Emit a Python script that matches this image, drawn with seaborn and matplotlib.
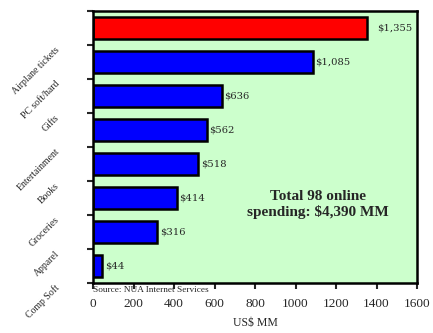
import matplotlib
matplotlib.use('Agg')
import matplotlib.pyplot as plt
import seaborn as sns

# data
categories = ['Airplane tickets', 'PC soft/hard', 'Gifts', 'Entertainment',
              'Books', 'Groceries', 'Apparel', 'Comp Soft']
spending = [1355, 1085, 636, 562, 518, 414, 316, 44]
bar_colors = ['#ff0000'] + ['#0000ff'] * 7
x_ticks = [0, 200, 400, 600, 800, 1000, 1200, 1400, 1600]

sns.set_style('white')
plt.rcParams['font.family'] = ['Liberation Serif', 'DejaVu Serif']

fig = plt.figure(figsize=(4.33, 3.33), dpi=100)
ax = fig.add_axes([93 / 433, 1 - 283 / 333, 324 / 433, 272 / 333])
ax.set_facecolor('#ccffcc')

sns.barplot(x=spending, y=categories, hue=categories, palette=bar_colors,
            legend=False, orient='h', width=0.65, edgecolor='black',
            linewidth=1.8, saturation=1, ax=ax)

# value labels next to each bar
for i, cont in enumerate(ax.containers):
    ax.bar_label(cont, labels=[f'${spending[i]:,}'], padding=7 if i == 0 else 2,
                 fontsize=7.2, family='DejaVu Serif')

ax.set_xlim(0, 1600)
ax.set_ylim(7.5, -0.5)
ax.set_xticks(x_ticks)
ax.set_xticklabels([str(t) for t in x_ticks], fontsize=9.5)

# ticks sit between bars, labels are shifted down by half a slot
ax.set_yticks([i - 0.5 for i in range(9)])
ax.set_yticklabels([''] + categories, fontsize=7, rotation=45,
                   ha='right', va='top')
ax.tick_params(axis='y', length=4, width=1.5, pad=19)
ax.tick_params(axis='x', length=4, width=1.5, pad=7, direction='out')
ax.tick_params(bottom=True, left=True)

for s in ax.spines.values():
    s.set_color('black')
    s.set_linewidth(1.8)

ax.set_ylabel('')
ax.set_xlabel('US$ MM', fontsize=8.5, labelpad=5)

ax.text(1111, 5.2, 'Total 98 online\nspending: $4,390 MM', ha='center',
        va='center', fontsize=11, fontweight='bold')
fig.text(93 / 433, 1 - 290 / 333, 'Source: NUA Internet Services',
         fontsize=6.7, va='center', ha='left')

fig.savefig('out.png', dpi=100)
